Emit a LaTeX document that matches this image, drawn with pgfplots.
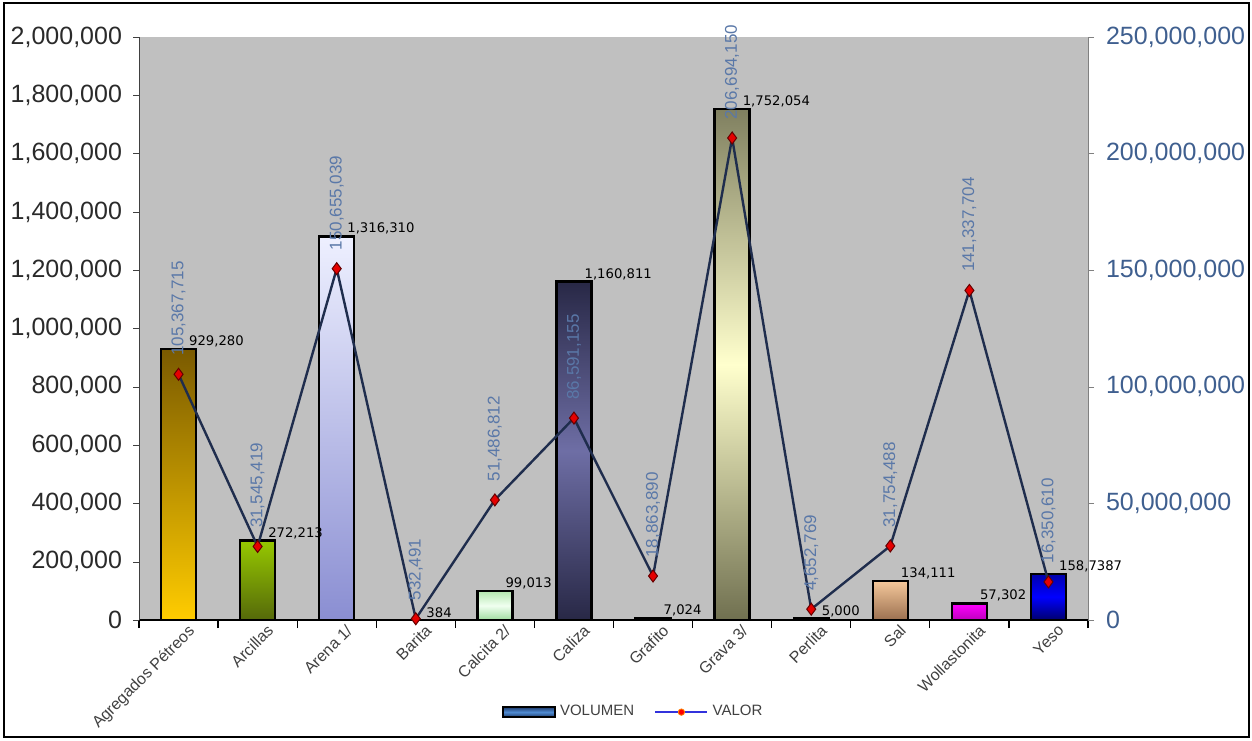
\documentclass[border=0pt]{standalone}
\usepackage{pgfplots}
\pgfplotsset{compat=1.18}
\usepackage{fontspec}
\setmainfont{Liberation Sans}
\newfontfamily\dejavu{DejaVu Sans}

\definecolor{plotbg}{HTML}{C0C0C0}
\definecolor{linenavy}{HTML}{1F2D4D}
\definecolor{rightblue}{HTML}{3F5F8F}
\definecolor{valblue}{HTML}{5A78A8}
\definecolor{ticktext}{HTML}{2A2A2A}
\definecolor{legline}{HTML}{3232DC}

\pgfplotsset{
  volleg/.style={legend image code/.code={\draw[##1] (0pt,-2.5pt) rectangle (26pt,2.5pt);}},
  valleg/.style={legend image code/.code={%
    \draw[legline, line width=1.2pt] (0pt,0pt) -- (26pt,0pt);
    \fill[red, draw=orange, line width=0.4pt] (13pt,0pt) circle (1.6pt);}},
}

\begin{document}
\begin{tikzpicture}
\pgfplotsset{
  volbar/.style={ybar, bar width=17.5pt, bar shift=0pt, draw=black, line width=1.2pt,
    point meta=explicit symbolic, nodes near coords,
    every node near coord/.append style={font=\dejavu\fontsize{6.6}{7}\selectfont,
      text=black, anchor=south west, xshift=2pt, inner ysep=1pt, line width=0pt}},
  common/.style={width=474.5pt, height=291.5pt, scale only axis,
    xmin=-0.5, xmax=11.5, ymin=0,
    scaled y ticks=false,
    /pgf/number format/.cd, fixed, 1000 sep={,}, assume math mode=true},
}
% VOLUMEN (eje izquierdo)
\begin{axis}[common, name=main, ymax=2000000,
  axis background/.style={fill=plotbg},
  axis x line*=bottom, axis y line*=left,
  x axis line style={black, line width=1.2pt},
  y axis line style={black!75},
  ytick distance=200000,
  tick align=outside,
  major tick length=3pt,
  ytick style={black!75},
  yticklabel style={font=\fontsize{12.5}{14}\selectfont, text=ticktext, xshift=-2pt},
  xtick={0,...,11},
  xticklabels={Agregados Pétreos,Arcillas,Arena 1/,Barita,Calcita 2/,Caliza,Grafito,Grava 3/,Perlita,Sal,Wollastonita,Yeso},
  major x tick style={draw=none},
  minor xtick={-0.5,0.5,...,11.5},
  minor x tick style={black, line width=0.6pt},
  minor tick length=4pt,
  xticklabel style={rotate=45, anchor=north east, font=\fontsize{8}{9}\selectfont, text=black!75, inner sep=1pt, xshift=5pt, yshift=-1pt},
]
\addplot[volbar, top color={rgb,255:red,122;green,90;blue,0}, bottom color={rgb,255:red,255;green,204;blue,0}] coordinates {(0,929280) [929,280]};
\addplot[volbar, top color={rgb,255:red,150;green,200;blue,0}, bottom color={rgb,255:red,85;green,105;blue,10}] coordinates {(1,272213) [272,213]};
\addplot[volbar, top color={rgb,255:red,238;green,240;blue,255}, bottom color={rgb,255:red,138;green,142;blue,210}] coordinates {(2,1316310) [1,316,310]};
\addplot[volbar, fill=black] coordinates {(3,384) [384]};
\addplot[volbar, top color={rgb,255:red,180;green,230;blue,175}, bottom color={rgb,255:red,160;green,220;blue,160}, middle color={rgb,255:red,240;green,255;blue,240}] coordinates {(4,99013) [99,013]};
\addplot[volbar, top color={rgb,255:red,40;green,40;blue,70}, bottom color={rgb,255:red,40;green,40;blue,70}, middle color={rgb,255:red,110;green,110;blue,165}] coordinates {(5,1160811) [1,160,811]};
\addplot[volbar, fill=black] coordinates {(6,7024) [7,024]};
\addplot[volbar, top color={rgb,255:red,128;green,128;blue,96}, bottom color={rgb,255:red,112;green,112;blue,80}, middle color={rgb,255:red,255;green,255;blue,205}] coordinates {(7,1752054) [1,752,054]};
\addplot[volbar, fill=black] coordinates {(8,5000) [5,000]};
\addplot[volbar, top color={rgb,255:red,245;green,200;blue,155}, bottom color={rgb,255:red,155;green,112;blue,80}] coordinates {(9,134111) [134,111]};
\addplot[volbar, top color={rgb,255:red,255;green,0;blue,255}, bottom color={rgb,255:red,190;green,0;blue,190}] coordinates {(10,57302) [57,302]};
\addplot[volbar, top color={rgb,255:red,0;green,0;blue,170}, bottom color={rgb,255:red,0;green,0;blue,110}, middle color={rgb,255:red,0;green,0;blue,255}] coordinates {(11,158739) [158,7387]};
\end{axis}

% VALOR (eje derecho)
\begin{axis}[common, ymax=250000000, clip=false,
  axis x line=none, axis y line*=right,
  y axis line style={black!50},
  ytick distance=50000000,
  tick align=outside,
  major tick length=3pt,
  ytick style={black!50},
  yticklabel style={font=\fontsize{12.5}{14}\selectfont, text=rightblue, xshift=2.5pt},
  legend style={at={(0.522,-0.158)}, anchor=center, draw=none, fill=none,
    legend columns=2, font=\fontsize{7.5}{9}\selectfont, text=black!75,
    /tikz/every even column/.append style={column sep=8pt}},
]
\addlegendimage{volleg, draw=black, line width=0.8pt, top color={rgb,255:red,30;green,60;blue,110}, bottom color={rgb,255:red,30;green,60;blue,110}, middle color={rgb,255:red,80;green,140;blue,210}}
\addlegendentry{VOLUMEN}
\addplot[linenavy, line width=1.2pt, mark=diamond*, mark size=3pt,
  mark options={fill=red!90!black, draw=red!40!black, line width=0.5pt},
  valleg,
  point meta=explicit symbolic, nodes near coords,
  every node near coord/.append style={rotate=90, anchor=west, inner xsep=9pt,
    font=\fontsize{8.5}{10}\selectfont, text=valblue}]
coordinates {
  (0,105367715) [105,367,715]
  (1,31545419) [31,545,419]
  (2,150655039) [150,655,039]
  (3,532491) [532,491]
  (4,51486812) [51,486,812]
  (5,86591155) [86,591,155]
  (6,18863890) [18,863,890]
  (7,206694150) [206,694,150]
  (8,4652769) [4,652,769]
  (9,31754488) [31,754,488]
  (10,141337704) [141,337,704]
  (11,16350610) [16,350,610]
};
\addlegendentry{VALOR}
\end{axis}

\pgfresetboundingbox
\path[use as bounding box] ([xshift=-69.5pt,yshift=-60pt]main.south west) rectangle ([xshift=82pt,yshift=18.5pt]main.north east);
\draw[line width=1pt] ([xshift=-67.5pt,yshift=-58.5pt]main.south west) rectangle ([xshift=80.5pt,yshift=17pt]main.north east);
\end{tikzpicture}
\end{document}
